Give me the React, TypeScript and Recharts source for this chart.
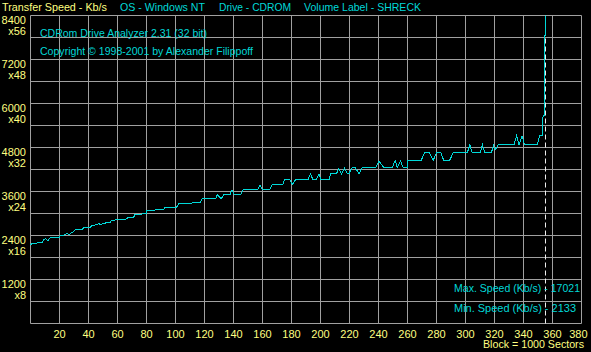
import React from "react";
import {
  CartesianGrid,
  Line,
  LineChart,
  ReferenceLine,
  XAxis,
  YAxis,
} from "recharts";

// block number (x 1000 sectors) and measured transfer speed in Kb/s
const blocks = [
  0, 1, 8, 9, 10.5, 12, 13.6, 19.8, 20.5, 24, 25, 26.2, 27, 29.7, 30.8, 35.4,
  36.6, 41, 42.3, 46, 47, 48, 50, 51.5, 55, 56, 65.3, 66.9, 71, 72.2, 79.6,
  80.2, 91.5, 93, 100.7, 102.3, 117, 118.4, 127.6, 128.8, 131.5, 133.3, 137.5,
  138.9, 140.7, 145, 146.7, 156.8, 158.2, 159.8, 165, 166.7, 174, 175.2, 179,
  180.5, 182.8, 191.3, 193, 194.9, 197, 199, 200.4, 205.8, 207, 211, 212.5,
  214.4, 216.6, 218.5, 219.5, 221.8, 224, 226.5, 228.8, 238, 240.3, 243.7,
  249.4, 251.5, 253, 255.2, 257, 259.8, 260.2, 269.4, 271.7, 275, 277.7, 280,
  283, 285, 289, 291.5, 301.2, 303, 304.7, 310, 311.7, 313.3, 317.8, 319.3,
  320.5, 322.5, 333.5, 335.2, 336.9, 339, 340.7, 349.4, 351.2, 353, 353.5,
  354.2, 354.5, 355, 355.2,
];
const speeds = [
  2140, 2190, 2200, 2280, 2310, 2260, 2345, 2350, 2400, 2420, 2460, 2430, 2440,
  2510, 2560, 2560, 2610, 2610, 2680, 2690, 2735, 2700, 2720, 2740, 2750, 2820,
  2830, 2880, 2890, 2980, 2990, 3090, 3100, 3170, 3170, 3280, 3290, 3400, 3400,
  3510, 3400, 3510, 3510, 3640, 3510, 3510, 3650, 3650, 3780, 3650, 3650, 3780,
  3790, 3920, 3920, 3790, 3920, 3920, 4080, 3920, 3920, 4080, 3920, 3920, 4080,
  4080, 4220, 4080, 4250, 4080, 4080, 4250, 4250, 4080, 4250, 4250, 4430, 4250,
  4250, 4440, 4250, 4440, 4250, 4250, 4445, 4445, 4655, 4655, 4445, 4655, 4655,
  4445, 4445, 4655, 4655, 4870, 4655, 4655, 4870, 4655, 4655, 4850, 4740, 4870,
  4870, 5120, 4870, 5120, 4870, 4870, 5120, 5120, 5670, 5670, 7850, 7850, 17021,
];

const xTicks = [
  0, 20, 40, 60, 80, 100, 120, 140, 160, 180, 200, 220, 240, 260, 280, 300, 320,
  340, 360, 380,
];
const yTicks = [
  0, 600, 1200, 1800, 2400, 3000, 3600, 4200, 4800, 5400, 6000, 6600, 7200,
  7800, 8400,
];
const yLabelValues = [1200, 2400, 3600, 4800, 6000, 7200, 8400];
const yMultLabels = ["x8", "x16", "x24", "x32", "x40", "x48", "x56"];

const endBlock = 355.17;

const data = blocks.map((b, i) => ({ block: b, speed: speeds[i] }));

const YELLOW = "#ffff80";
const CYAN = "#00d8d8";
const GRID = "#a0a0a0";
const FONT = "'Liberation Sans', Arial, sans-serif";

function XTick(props) {
  const { x, payload } = props;
  if (payload.value === 0) return null;
  const last = payload.value === xTicks[xTicks.length - 1];
  return (
    <text
      x={last ? x + 6 : x}
      y={337.5}
      textAnchor={last ? "end" : "middle"}
      fill={YELLOW}
      fontSize={11}
      fontFamily={FONT}
    >
      {payload.value}
    </text>
  );
}

function YTick(props) {
  const { y, payload } = props;
  const idx = yLabelValues.indexOf(payload.value);
  if (idx < 0) return null;
  return (
    <g>
      <text x={26} y={y + 8} textAnchor="end" fill={YELLOW} fontSize={11} fontFamily={FONT}>
        {payload.value}
      </text>
      <text x={26} y={y + 19.5} textAnchor="end" fill={YELLOW} fontSize={11} fontFamily={FONT}>
        {yMultLabels[idx]}
      </text>
    </g>
  );
}

function Label({ x, y, w, color, children }) {
  return (
    <text
      x={x}
      y={y}
      fill={color}
      fontSize={11}
      fontFamily={FONT}
      textLength={w}
      lengthAdjust="spacingAndGlyphs"
    >
      {children}
    </text>
  );
}

export default function App() {
  return (
    <div
      style={{
        position: "absolute",
        left: 0,
        top: 0,
        width: 591,
        height: 352,
        background: "#000",
      }}
    >
      <LineChart
        width={591}
        height={352}
        data={data}
        margin={{ top: 15.5, right: 9.5, left: 0, bottom: 0 }}
      >
        <CartesianGrid stroke={GRID} strokeWidth={1} />
        <XAxis
          dataKey="block"
          type="number"
          domain={[0, 380]}
          ticks={xTicks}
          height={28.5}
          axisLine={false}
          tickLine={false}
          tick={XTick}
          interval={0}
        />
        <YAxis
          type="number"
          domain={[0, 8400]}
          ticks={yTicks}
          width={30.5}
          axisLine={false}
          tickLine={false}
          tick={YTick}
          interval={0}
          allowDataOverflow
        />
        <ReferenceLine x={endBlock} stroke="#f0f0f0" strokeDasharray="5 3" />
        <Line
          dataKey="speed"
          type="linear"
          stroke={CYAN}
          strokeWidth={1}
          dot={false}
          isAnimationActive={false}
          shapeRendering="crispEdges"
        />
      </LineChart>
      <svg
        width={591}
        height={352}
        style={{ position: "absolute", left: 0, top: 0, pointerEvents: "none" }}
      >
        <Label x={2} y={11} w={105} color={YELLOW}>Transfer Speed - Kb/s</Label>
        <Label x={120} y={11} w={85} color={CYAN}>OS - Windows NT</Label>
        <Label x={219} y={11} w={72} color={CYAN}>Drive - CDROM</Label>
        <Label x={304} y={11} w={117} color={CYAN}>Volume Label - SHRECK</Label>
        <Label x={40} y={36.5} w={167} color={CYAN}>CDRom Drive Analyzer 2.31 (32 bit)</Label>
        <Label x={40} y={55} w={213} color={CYAN}>Copyright © 1998-2001 by Alexander Filippoff</Label>
        <Label x={454} y={292} w={126} color={CYAN}>Max. Speed (Kb/s) - 17021</Label>
        <Label x={454} y={312} w={122} color={CYAN}>{"Min.  Speed (Kb/s) - 2133"}</Label>
        <Label x={483} y={348} w={101} color={YELLOW}>Block = 1000 Sectors</Label>
      </svg>
    </div>
  );
}
